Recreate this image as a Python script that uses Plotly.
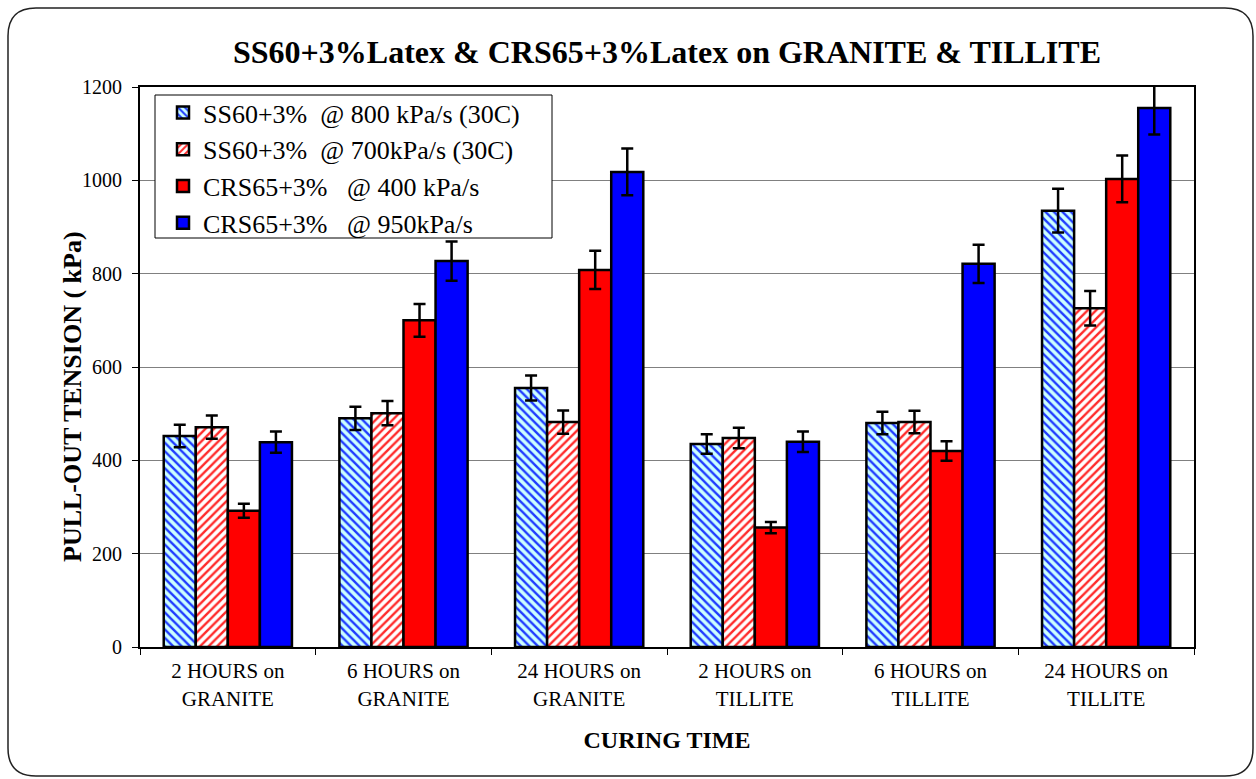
import plotly.graph_objects as go

# Curing-time groups (x categories)
categories = [
    "2 HOURS on<br>GRANITE", "6 HOURS on<br>GRANITE", "24 HOURS on<br>GRANITE",
    "2 HOURS on<br>TILLITE", "6 HOURS on<br>TILLITE", "24 HOURS on<br>TILLITE",
]

# Pull-out tension (kPa) and error bar half-widths per series
ss60_800 = [452, 490, 555, 435, 480, 935]
ss60_800_err = [24, 25, 27, 21, 24, 47]

ss60_700 = [471, 501, 482, 448, 482, 726]
ss60_700_err = [25, 26, 25, 22, 24, 37]

crs65_400 = [292, 700, 808, 256, 420, 1003]
crs65_400_err = [15, 35, 41, 12, 21, 50]

crs65_950 = [439, 827, 1018, 440, 821, 1155]
crs65_950_err = [23, 42, 50, 22, 41, 57]

NB = "\u00a0"
series_names = [
    f"SS60+3%{NB}{NB}@ 800 kPa/s (30C)",
    f"SS60+3%{NB}{NB}@ 700kPa/s (30C)",
    f"CRS65+3%{NB}{NB}{NB}@ 400 kPa/s",
    f"CRS65+3%{NB}{NB}{NB}@ 950kPa/s",
]

FONT = "Liberation Serif"

styles = [
    dict(color="#CCFFFF", pattern=dict(shape="\\", fgcolor="#1F3BFF", bgcolor="#CCFFFF",
                                       size=6, solidity=0.4, fillmode="replace")),
    dict(color="#FFFFFF", pattern=dict(shape="/", fgcolor="#FF2A2A", bgcolor="#FFFFFF",
                                       size=6, solidity=0.4, fillmode="replace")),
    dict(color="#FF0000"),
    dict(color="#0000FF"),
]

values = [ss60_800, ss60_700, crs65_400, crs65_950]
errors = [ss60_800_err, ss60_700_err, crs65_400_err, crs65_950_err]

fig = go.Figure()
for i, (name, vals, errs, st) in enumerate(zip(series_names, values, errors, styles)):
    marker = dict(st)
    marker["line"] = dict(color="black", width=2.5)
    fig.add_trace(go.Bar(
        x=categories, y=vals, name=name, marker=marker,
        legendgroup=f"g{i}",
        error_y=dict(type="data", array=errs, visible=True,
                     color="black", thickness=2.5, width=6),
    ))

# plot-area geometry in pixels (used for frame, legend box and axis title)
W, H = 1256, 779
L, R, T, B = 140, 62, 87, 132
pw, ph = W - L - R, H - T - B


def px2x(px):
    return (px - L) / pw


def px2y(py):
    return 1 - (py - T) / ph


def frame_path(x0, y0, x1, y1, r):
    pts = [
        ("M", x0 + r, y0), ("L", x1 - r, y0), ("Q", x1, y0, x1, y0 + r),
        ("L", x1, y1 - r), ("Q", x1, y1, x1 - r, y1),
        ("L", x0 + r, y1), ("Q", x0, y1, x0, y1 - r),
        ("L", x0, y0 + r), ("Q", x0, y0, x0 + r, y0),
    ]
    out = []
    for p in pts:
        cmd, coords = p[0], p[1:]
        xy = []
        for k in range(0, len(coords), 2):
            xy.append(f"{px2x(coords[k]):.5f},{px2y(coords[k + 1]):.5f}")
        out.append(cmd + " ".join(xy))
    return " ".join(out) + " Z"


# outer rounded chart frame
fig.add_shape(type="path", xref="paper", yref="paper",
              path=frame_path(8, 8, 1253, 776, 28),
              line=dict(color="#222222", width=1.5), layer="below")

# legend box
fig.add_shape(type="rect", xref="paper", yref="paper",
              x0=px2x(155), x1=px2x(552), y0=px2y(238), y1=px2y(95),
              line=dict(color="black", width=1), fillcolor="white", layer="above")

# y-axis title
fig.add_annotation(text="<b>PULL-OUT TENSION ( kPa)</b>", xref="paper", yref="paper",
                   x=px2x(72), y=px2y(397), textangle=-90, showarrow=False,
                   xanchor="center", yanchor="middle",
                   font=dict(family=FONT, size=26, color="black"))

fig.update_layout(
    width=W, height=H,
    margin=dict(l=L, r=R, t=T, b=B),
    paper_bgcolor="white", plot_bgcolor="white",
    barmode="group", bargap=0.27, bargroupgap=0,
    font=dict(family=FONT, color="black", size=20),
    title=dict(text="<b>SS60+3%Latex &amp; CRS65+3%Latex on GRANITE &amp; TILLITE</b>",
               x=0.5, xref="paper", xanchor="center",
               y=1 - 52 / H, yref="container", yanchor="middle",
               font=dict(family=FONT, size=32, color="black")),
    legend=dict(x=px2x(163), y=px2y(89), xanchor="left", yanchor="top",
                borderwidth=0, bgcolor="rgba(0,0,0,0)",
                font=dict(family=FONT, size=26, color="black"),
                tracegroupgap=2, traceorder="normal"),
    xaxis=dict(
        type="category", tickson="boundaries", ticks="outside", ticklen=6,
        tickcolor="black", tickwidth=1, ticklabelstandoff=4,
        showline=True, linecolor="black", linewidth=2, mirror=True,
        tickfont=dict(family=FONT, size=21, color="black"),
        title=dict(text="<b>CURING TIME</b>", standoff=22,
                   font=dict(family=FONT, size=24, color="black")),
    ),
    yaxis=dict(
        range=[0, 1200], dtick=200, tick0=0,
        ticks="outside", ticklen=6, tickcolor="black", tickwidth=1,
        ticklabelstandoff=6,
        showgrid=True, gridcolor="#808080", gridwidth=1,
        showline=True, linecolor="black", linewidth=2, mirror=True,
        zeroline=False,
        tickfont=dict(family=FONT, size=20, color="black"),
    ),
)

fig.write_html("out.html")
